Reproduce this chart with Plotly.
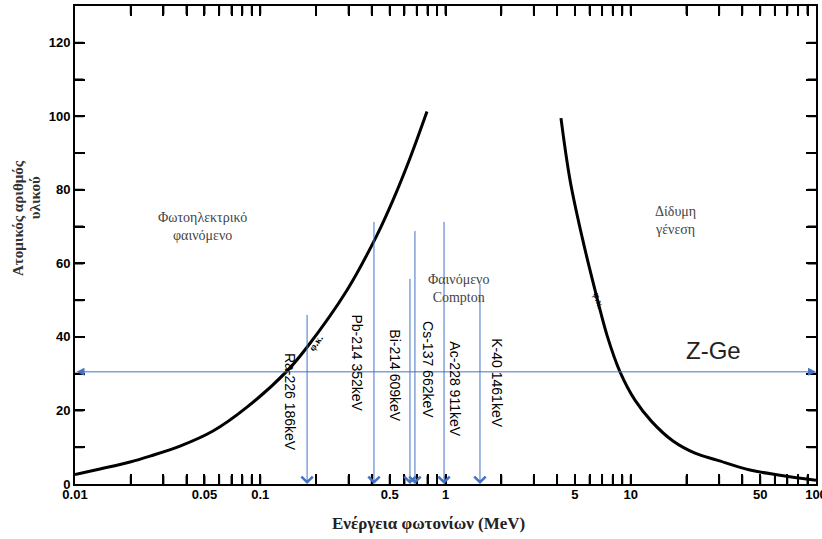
import math
import plotly.graph_objects as go

# ---- data ----
photo_E = [0.01, 0.01364, 0.01982, 0.02541, 0.03688, 0.05557, 0.08482, 0.1394, 0.1788, 0.2939, 0.4268, 0.5207, 0.6431, 0.7943]
photo_Z = [2.6, 4.1, 6.0, 7.6, 10.3, 14.4, 20.9, 30.7, 37.2, 52.7, 67.7, 77.2, 88.6, 101.3]

pair_E = [4.20, 4.70, 5.46, 6.41, 7.44, 8.75, 10.54, 13.02, 16.91, 22.23, 29.22, 44.0, 63.9, 100]
pair_Z = [99.5, 82.7, 67.2, 52.8, 40.5, 30.5, 22.8, 16.9, 11.7, 8.4, 6.5, 3.8, 2.4, 1.0]

line_labels = ["Ra-226 186keV", "Pb-214 352keV", "Bi-214 609keV", "Cs-137 662keV", "Ac-228 911keV", "K-40 1461keV"]
line_E = [0.179, 0.411, 0.643, 0.684, 0.982, 1.535]
line_top_Z = [46.4, 71.7, 56.2, 69.2, 71.7, 54.8]
label_Z = [22.3, 32.8, 29.3, 31.0, 26.0, 27.4]
label_shift = [-17, -17, -15, 13, 11, 17]

ge_Z = 30.5
E_min, E_max = 0.01, 100
Z_max = 130

x_major = [0.01, 0.05, 0.1, 0.5, 1, 5, 10, 50, 100]
x_major_text = ["0.01", "0.05", "0.1", "0.5", "1", "5", "10", "50", "100"]
y_ticks = list(range(0, 130, 10))

# ---- figure ----
W, H = 822, 539
TICK_PX = 10
BLUE = "#4472C4"

fig = go.Figure()
fig.add_trace(go.Scatter(x=photo_E, y=photo_Z, mode="lines", line=dict(color="black", width=3, shape="spline"),
                         showlegend=False))
fig.add_trace(go.Scatter(x=pair_E, y=pair_Z, mode="lines", line=dict(color="black", width=3, shape="spline"),
                         showlegend=False))

# x ticks: all 1..9 multiples per decade, labels only for majors
xt, xtt = [], []
for d in range(-2, 2):
    for m in range(1, 10):
        v = round(m * 10 ** d, 6)
        xt.append(v)
        xtt.append(x_major_text[x_major.index(v)] if v in x_major else "")
xt.append(100); xtt.append("100")
yt_text = [str(v) if v % 20 == 0 else "" for v in y_ticks]

ann = []
# inside tick marks on all four sides of the frame (short plain arrows, pixel offsets)
tick_style = dict(xref="x", yref="y", text="", showarrow=True, arrowhead=0, arrowwidth=2,
                  arrowcolor="black", standoff=0, startstandoff=0)
for v in xt[1:-1]:
    lv = math.log10(v)
    ann.append(dict(x=lv, y=0, ax=0, ay=-TICK_PX, **tick_style))
    ann.append(dict(x=lv, y=Z_max, ax=0, ay=TICK_PX, **tick_style))
for z in y_ticks[1:]:
    ann.append(dict(x=math.log10(E_min), y=z, ax=TICK_PX, ay=0, **tick_style))
    ann.append(dict(x=math.log10(E_max), y=z, ax=-TICK_PX, ay=0, **tick_style))

# vertical arrows
for E, zt in zip(line_E, line_top_Z):
    lx = math.log10(E)
    ann.append(dict(x=lx, y=0, ax=lx, ay=zt, xref="x", yref="y", axref="x", ayref="y",
                    text="", showarrow=True, arrowhead=4, arrowsize=2.2, arrowwidth=1, arrowcolor=BLUE))
# horizontal double arrow
ann.append(dict(x=math.log10(E_max), y=ge_Z, ax=math.log10(E_min), ay=ge_Z, xref="x", yref="y", axref="x", ayref="y",
                text="", showarrow=True, arrowhead=2, startarrowhead=2, arrowside="end+start",
                arrowsize=1.6, startarrowsize=1.6, arrowwidth=1, arrowcolor=BLUE))
# line labels
for lab, E, z, sh in zip(line_labels, line_E, label_Z, label_shift):
    ann.append(dict(x=math.log10(E), y=z, xref="x", yref="y", text=lab, showarrow=False, textangle=90,
                    xshift=sh, font=dict(family="Liberation Sans, Arial", size=14, color="black")))

greek = dict(family="Liberation Serif, DejaVu Serif", size=14, color="#444444")
ann.append(dict(x=-1.314, y=69.9, xref="x", yref="y", text="Φωτοηλεκτρικό<br>φαινόμενο", showarrow=False, font=greek))
ann.append(dict(x=0.0675, y=53.3, xref="x", yref="y", text="Φαινόμενο<br>Compton", showarrow=False, font=greek))
ann.append(dict(x=1.244, y=71.8, xref="x", yref="y", text="Δίδυμη<br>γένεση", showarrow=False, font=greek))
ann.append(dict(x=1.444, y=36.4, xref="x", yref="y", text="Z-Ge", showarrow=False,
                font=dict(family="Liberation Sans, Arial", size=24, color="#222222")))
# small curve marks
ann.append(dict(x=-0.70, y=38.5, xref="x", yref="y", text="<b>φ.κ.</b>", showarrow=False, textangle=-55,
                font=dict(family="Liberation Serif", size=10, color="black")))
ann.append(dict(x=0.83, y=50, xref="x", yref="y", text="<b>φ.κ.</b>", showarrow=False, textangle=72,
                font=dict(family="Liberation Serif", size=10, color="black")))

# axis titles
ann.append(dict(x=0.4777, y=-0.0816, xref="paper", yref="paper", xanchor="center", yanchor="middle",
                text="<b>Ενέργεια φωτονίων (MeV)</b>",
                showarrow=False, font=dict(family="Liberation Serif", size=17, color="#222222")))
ann.append(dict(x=-0.0769, y=0.5565, xref="paper", yref="paper", xanchor="center", yanchor="middle",
                text="<b>Ατομικός αριθμός</b>", textangle=-90,
                showarrow=False, font=dict(family="Liberation Serif", size=15, color="#333333")))
ann.append(dict(x=-0.0540, y=0.600, xref="paper", yref="paper", xanchor="center", yanchor="middle",
                text="<b>υλικού</b>", textangle=-90,
                showarrow=False, font=dict(family="Liberation Serif", size=15, color="#333333")))

tickfont = dict(family="Liberation Sans, Arial", size=13, color="black", weight="bold")
fig.update_layout(
    width=W, height=H,
    margin=dict(l=75, r=6, t=6, b=55, autoexpand=False),
    paper_bgcolor="white", plot_bgcolor="white",
    xaxis=dict(type="log", range=[math.log10(E_min), math.log10(E_max)], tickmode="array", tickvals=xt, ticktext=xtt,
               ticks="inside", ticklen=TICK_PX, tickwidth=2, tickcolor="black", showline=True, linecolor="black",
               linewidth=2, mirror="ticks", showgrid=False, tickfont=tickfont,
               ticklabeloverflow="allow", automargin=False, ticklabelstandoff=-3),
    yaxis=dict(range=[0, Z_max], tickmode="array", tickvals=y_ticks, ticktext=yt_text, ticks="inside",
               ticklen=TICK_PX, tickwidth=2, tickcolor="black",
               showline=True, linecolor="black", linewidth=2, mirror="ticks",
               showgrid=False, tickfont=tickfont, automargin=False),
    annotations=ann,
)
fig.write_html("out.html")
